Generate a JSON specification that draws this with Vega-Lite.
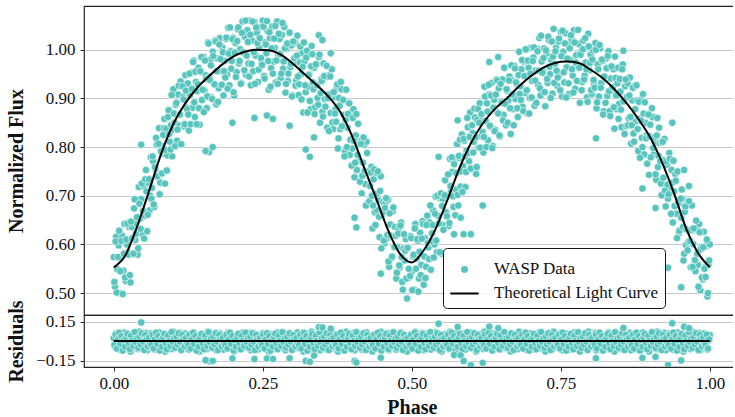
{
"$schema": "https://vega.github.io/schema/vega-lite/v6.json",
"padding": {"left": 6, "top": 5, "right": -8, "bottom": 0},
"spacing": 0,
"bounds": "flush",
"config": {
  "font": "Liberation Serif",
  "view": {"stroke": "#262626", "strokeWidth": 1.2},
  "axis": {"labelFont": "Liberation Serif", "labelFontSize": 17, "labelColor": "#111111", "titleFont": "Liberation Serif", "titleFontSize": 20, "titleFontWeight": "bold", "titleColor": "#111111", "grid": true, "gridColor": "#c8c8c8", "gridWidth": 1, "ticks": true, "tickSize": 4, "tickColor": "#262626", "domain": false, "labelPadding": 5}
},
"datasets": {
"model": [{"p":0,"f":0.553},{"p":0.02,"f":0.579},{"p":0.04,"f":0.640},{"p":0.06,"f":0.713},{"p":0.08,"f":0.788},{"p":0.10,"f":0.848},{"p":0.12,"f":0.890},{"p":0.14,"f":0.922},{"p":0.16,"f":0.946},{"p":0.18,"f":0.968},{"p":0.20,"f":0.986},{"p":0.22,"f":0.996},{"p":0.24,"f":1.000},{"p":0.26,"f":0.999},{"p":0.28,"f":0.990},{"p":0.30,"f":0.972},{"p":0.32,"f":0.950},{"p":0.34,"f":0.928},{"p":0.36,"f":0.904},{"p":0.38,"f":0.872},{"p":0.40,"f":0.822},{"p":0.42,"f":0.758},{"p":0.44,"f":0.695},{"p":0.46,"f":0.630},{"p":0.48,"f":0.581},{"p":0.50,"f":0.563},{"p":0.52,"f":0.588},{"p":0.54,"f":0.632},{"p":0.56,"f":0.692},{"p":0.58,"f":0.757},{"p":0.60,"f":0.810},{"p":0.62,"f":0.850},{"p":0.64,"f":0.879},{"p":0.66,"f":0.901},{"p":0.68,"f":0.925},{"p":0.70,"f":0.946},{"p":0.72,"f":0.963},{"p":0.74,"f":0.973},{"p":0.76,"f":0.976},{"p":0.78,"f":0.973},{"p":0.80,"f":0.959},{"p":0.82,"f":0.942},{"p":0.84,"f":0.919},{"p":0.86,"f":0.891},{"p":0.88,"f":0.858},{"p":0.90,"f":0.820},{"p":0.92,"f":0.768},{"p":0.94,"f":0.705},{"p":0.96,"f":0.634},{"p":0.98,"f":0.583},{"p":1.0,"f":0.553}],
"zero": [{"p":0,"r":0},{"p":1,"r":0}],
"pts": [
{"p":0.000,"f":0.574,"r":0.021},{"p":0.002,"f":0.513,"r":-0.043},{"p":0.004,"f":0.616,"r":0.058},{"p":0.006,"f":0.549,"r":-0.012},{"p":0.008,"f":0.598,"r":0.035},{"p":0.010,"f":0.500,"r":-0.066},{"p":0.012,"f":0.573,"r":0.004},{"p":0.014,"f":0.618,"r":0.047},{"p":0.016,"f":0.546,"r":-0.028},{"p":0.018,"f":0.642,"r":0.066},
{"p":0.020,"f":0.525,"r":-0.054},{"p":0.022,"f":0.600,"r":0.015},{"p":0.024,"f":0.584,"r":-0.007},{"p":0.026,"f":0.636,"r":0.039},{"p":0.028,"f":0.522,"r":-0.081},{"p":0.030,"f":0.636,"r":0.026},{"p":0.032,"f":0.581,"r":-0.035},{"p":0.034,"f":0.674,"r":0.052},{"p":0.036,"f":0.609,"r":-0.019},{"p":0.038,"f":0.643,"r":0.009},
{"p":0.040,"f":0.579,"r":-0.061},{"p":0.042,"f":0.718,"r":0.071},{"p":0.044,"f":0.653,"r":-0.002},{"p":0.046,"f":0.693,"r":0.031},{"p":0.048,"f":0.621,"r":-0.048},{"p":0.050,"f":0.720,"r":0.043},{"p":0.052,"f":0.659,"r":-0.025},{"p":0.054,"f":0.753,"r":0.062},{"p":0.056,"f":0.627,"r":-0.071},{"p":0.058,"f":0.727,"r":0.021},
{"p":0.060,"f":0.670,"r":-0.043},{"p":0.062,"f":0.779,"r":0.058},{"p":0.064,"f":0.716,"r":-0.012},{"p":0.066,"f":0.771,"r":0.035},{"p":0.068,"f":0.677,"r":-0.066},{"p":0.070,"f":0.755,"r":0.004},{"p":0.072,"f":0.805,"r":0.047},{"p":0.074,"f":0.738,"r":-0.028},{"p":0.076,"f":0.839,"r":0.066},{"p":0.078,"f":0.727,"r":-0.054},
{"p":0.080,"f":0.803,"r":0.015},{"p":0.082,"f":0.787,"r":-0.007},{"p":0.084,"f":0.839,"r":0.039},{"p":0.086,"f":0.725,"r":-0.081},{"p":0.088,"f":0.838,"r":0.026},{"p":0.090,"f":0.783,"r":-0.035},{"p":0.092,"f":0.876,"r":0.052},{"p":0.094,"f":0.811,"r":-0.019},{"p":0.096,"f":0.845,"r":0.009},{"p":0.098,"f":0.781,"r":-0.061},
{"p":0.100,"f":0.919,"r":0.071},{"p":0.102,"f":0.850,"r":-0.002},{"p":0.104,"f":0.887,"r":0.031},{"p":0.106,"f":0.813,"r":-0.048},{"p":0.108,"f":0.908,"r":0.043},{"p":0.110,"f":0.844,"r":-0.025},{"p":0.112,"f":0.935,"r":0.062},{"p":0.114,"f":0.806,"r":-0.071},{"p":0.116,"f":0.903,"r":0.021},{"p":0.118,"f":0.843,"r":-0.043},
{"p":0.120,"f":0.948,"r":0.058},{"p":0.122,"f":0.881,"r":-0.012},{"p":0.124,"f":0.931,"r":0.035},{"p":0.126,"f":0.834,"r":-0.066},{"p":0.128,"f":0.907,"r":0.004},{"p":0.130,"f":0.953,"r":0.047},{"p":0.132,"f":0.881,"r":-0.028},{"p":0.134,"f":0.978,"r":0.066},{"p":0.136,"f":0.862,"r":-0.054},{"p":0.138,"f":0.934,"r":0.015},
{"p":0.140,"f":0.915,"r":-0.007},{"p":0.142,"f":0.963,"r":0.039},{"p":0.144,"f":0.846,"r":-0.081},{"p":0.146,"f":0.955,"r":0.026},{"p":0.148,"f":0.897,"r":-0.035},{"p":0.150,"f":0.986,"r":0.052},{"p":0.152,"f":0.917,"r":-0.019},{"p":0.154,"f":0.948,"r":0.009},{"p":0.156,"f":0.880,"r":-0.061},{"p":0.158,"f":1.015,"r":0.071},
{"p":0.160,"f":0.944,"r":-0.002},{"p":0.162,"f":0.979,"r":0.031},{"p":0.164,"f":0.902,"r":-0.048},{"p":0.166,"f":0.996,"r":0.043},{"p":0.168,"f":0.930,"r":-0.025},{"p":0.170,"f":1.019,"r":0.062},{"p":0.172,"f":0.888,"r":-0.071},{"p":0.174,"f":0.982,"r":0.021},{"p":0.176,"f":0.921,"r":-0.043},{"p":0.178,"f":1.024,"r":0.058},
{"p":0.180,"f":0.956,"r":-0.012},{"p":0.182,"f":1.005,"r":0.035},{"p":0.184,"f":0.906,"r":-0.066},{"p":0.186,"f":0.977,"r":0.004},{"p":0.188,"f":1.022,"r":0.047},{"p":0.190,"f":0.949,"r":-0.028},{"p":0.192,"f":1.045,"r":0.066},{"p":0.194,"f":0.927,"r":-0.054},{"p":0.196,"f":0.997,"r":0.015},{"p":0.198,"f":0.977,"r":-0.007},
{"p":0.200,"f":1.025,"r":0.039},{"p":0.202,"f":0.906,"r":-0.081},{"p":0.204,"f":1.014,"r":0.026},{"p":0.206,"f":0.954,"r":-0.035},{"p":0.208,"f":1.042,"r":0.052},{"p":0.210,"f":0.972,"r":-0.019},{"p":0.212,"f":1.001,"r":0.009},{"p":0.214,"f":0.932,"r":-0.061},{"p":0.216,"f":1.058,"r":0.064},{"p":0.218,"f":0.993,"r":-0.002},
{"p":0.220,"f":1.027,"r":0.031},{"p":0.222,"f":0.948,"r":-0.048},{"p":0.224,"f":1.040,"r":0.043},{"p":0.226,"f":0.972,"r":-0.025},{"p":0.228,"f":1.060,"r":0.062},{"p":0.230,"f":0.927,"r":-0.071},{"p":0.232,"f":1.019,"r":0.021},{"p":0.234,"f":0.956,"r":-0.043},{"p":0.236,"f":1.057,"r":0.058},{"p":0.238,"f":0.988,"r":-0.012},
{"p":0.240,"f":1.035,"r":0.035},{"p":0.242,"f":0.934,"r":-0.066},{"p":0.244,"f":1.004,"r":0.004},{"p":0.246,"f":1.047,"r":0.047},{"p":0.248,"f":0.972,"r":-0.028},{"p":0.250,"f":1.060,"r":0.060},{"p":0.252,"f":0.946,"r":-0.054},{"p":0.254,"f":1.015,"r":0.015},{"p":0.256,"f":0.993,"r":-0.007},{"p":0.258,"f":1.038,"r":0.039},
{"p":0.260,"f":0.918,"r":-0.081},{"p":0.262,"f":1.024,"r":0.026},{"p":0.264,"f":0.962,"r":-0.035},{"p":0.266,"f":1.048,"r":0.052},{"p":0.268,"f":0.976,"r":-0.019},{"p":0.270,"f":1.004,"r":0.009},{"p":0.272,"f":0.933,"r":-0.061},{"p":0.274,"f":1.058,"r":0.065},{"p":0.276,"f":0.990,"r":-0.002},{"p":0.278,"f":1.022,"r":0.031},
{"p":0.280,"f":0.942,"r":-0.048},{"p":0.282,"f":1.031,"r":0.043},{"p":0.284,"f":0.961,"r":-0.025},{"p":0.286,"f":1.047,"r":0.062},{"p":0.288,"f":0.912,"r":-0.071},{"p":0.290,"f":1.002,"r":0.021},{"p":0.292,"f":0.936,"r":-0.043},{"p":0.294,"f":1.035,"r":0.058},{"p":0.296,"f":0.964,"r":-0.012},{"p":0.298,"f":1.009,"r":0.035},
{"p":0.300,"f":0.906,"r":-0.066},{"p":0.302,"f":0.974,"r":0.004},{"p":0.304,"f":1.015,"r":0.047},{"p":0.306,"f":0.937,"r":-0.028},{"p":0.308,"f":1.029,"r":0.066},{"p":0.310,"f":0.907,"r":-0.054},{"p":0.312,"f":0.974,"r":0.015},{"p":0.314,"f":0.950,"r":-0.007},{"p":0.316,"f":0.993,"r":0.039},{"p":0.318,"f":0.871,"r":-0.081},
{"p":0.320,"f":0.976,"r":0.026},{"p":0.322,"f":0.913,"r":-0.035},{"p":0.324,"f":0.998,"r":0.052},{"p":0.326,"f":0.924,"r":-0.019},{"p":0.328,"f":0.950,"r":0.009},{"p":0.330,"f":0.878,"r":-0.061},{"p":0.332,"f":1.008,"r":0.071},{"p":0.334,"f":0.933,"r":-0.002},{"p":0.336,"f":0.963,"r":0.031},{"p":0.338,"f":0.882,"r":-0.048},
{"p":0.340,"f":0.971,"r":0.043},{"p":0.342,"f":0.901,"r":-0.025},{"p":0.344,"f":0.985,"r":0.062},{"p":0.346,"f":0.850,"r":-0.071},{"p":0.348,"f":0.939,"r":0.021},{"p":0.350,"f":0.873,"r":-0.043},{"p":0.352,"f":0.972,"r":0.058},{"p":0.354,"f":0.899,"r":-0.012},{"p":0.356,"f":0.944,"r":0.035},{"p":0.358,"f":0.840,"r":-0.066},
{"p":0.360,"f":0.908,"r":0.004},{"p":0.362,"f":0.948,"r":0.047},{"p":0.364,"f":0.870,"r":-0.028},{"p":0.366,"f":0.960,"r":0.066},{"p":0.368,"f":0.837,"r":-0.054},{"p":0.370,"f":0.903,"r":0.015},{"p":0.372,"f":0.878,"r":-0.007},{"p":0.374,"f":0.921,"r":0.039},{"p":0.376,"f":0.797,"r":-0.081},{"p":0.378,"f":0.901,"r":0.026},
{"p":0.380,"f":0.837,"r":-0.035},{"p":0.382,"f":0.919,"r":0.052},{"p":0.384,"f":0.843,"r":-0.019},{"p":0.386,"f":0.866,"r":0.009},{"p":0.388,"f":0.791,"r":-0.061},{"p":0.390,"f":0.918,"r":0.071},{"p":0.392,"f":0.840,"r":-0.002},{"p":0.394,"f":0.868,"r":0.031},{"p":0.396,"f":0.784,"r":-0.048},{"p":0.398,"f":0.870,"r":0.043},
{"p":0.400,"f":0.797,"r":-0.025},{"p":0.402,"f":0.878,"r":0.062},{"p":0.404,"f":0.738,"r":-0.071},{"p":0.406,"f":0.824,"r":0.021},{"p":0.408,"f":0.753,"r":-0.043},{"p":0.410,"f":0.848,"r":0.058},{"p":0.412,"f":0.772,"r":-0.012},{"p":0.414,"f":0.812,"r":0.035},{"p":0.416,"f":0.705,"r":-0.066},{"p":0.418,"f":0.768,"r":0.004},
{"p":0.420,"f":0.805,"r":0.047},{"p":0.422,"f":0.724,"r":-0.028},{"p":0.424,"f":0.811,"r":0.066},{"p":0.426,"f":0.685,"r":-0.054},{"p":0.428,"f":0.748,"r":0.015},{"p":0.430,"f":0.720,"r":-0.007},{"p":0.432,"f":0.759,"r":0.039},{"p":0.434,"f":0.633,"r":-0.081},{"p":0.436,"f":0.734,"r":0.026},{"p":0.438,"f":0.666,"r":-0.035},
{"p":0.440,"f":0.747,"r":0.052},{"p":0.442,"f":0.670,"r":-0.019},{"p":0.444,"f":0.691,"r":0.009},{"p":0.446,"f":0.615,"r":-0.061},{"p":0.448,"f":0.740,"r":0.071},{"p":0.450,"f":0.661,"r":-0.002},{"p":0.452,"f":0.687,"r":0.031},{"p":0.454,"f":0.602,"r":-0.048},{"p":0.456,"f":0.686,"r":0.043},{"p":0.458,"f":0.612,"r":-0.025},
{"p":0.460,"f":0.692,"r":0.062},{"p":0.462,"f":0.554,"r":-0.071},{"p":0.464,"f":0.641,"r":0.021},{"p":0.466,"f":0.572,"r":-0.043},{"p":0.468,"f":0.668,"r":0.058},{"p":0.470,"f":0.594,"r":-0.012},{"p":0.472,"f":0.636,"r":0.035},{"p":0.474,"f":0.530,"r":-0.066},{"p":0.476,"f":0.595,"r":0.004},{"p":0.478,"f":0.633,"r":0.047},
{"p":0.480,"f":0.553,"r":-0.028},{"p":0.482,"f":0.645,"r":0.066},{"p":0.484,"f":0.523,"r":-0.054},{"p":0.486,"f":0.591,"r":0.015},{"p":0.488,"f":0.567,"r":-0.007},{"p":0.490,"f":0.611,"r":0.039},{"p":0.492,"f":0.489,"r":-0.081},{"p":0.494,"f":0.594,"r":0.026},{"p":0.496,"f":0.532,"r":-0.035},{"p":0.498,"f":0.617,"r":0.052},
{"p":0.500,"f":0.544,"r":-0.019},{"p":0.502,"f":0.575,"r":0.009},{"p":0.504,"f":0.507,"r":-0.061},{"p":0.506,"f":0.642,"r":0.071},{"p":0.508,"f":0.571,"r":-0.002},{"p":0.510,"f":0.607,"r":0.031},{"p":0.512,"f":0.530,"r":-0.048},{"p":0.514,"f":0.624,"r":0.043},{"p":0.516,"f":0.558,"r":-0.025},{"p":0.518,"f":0.648,"r":0.062},
{"p":0.520,"f":0.517,"r":-0.071},{"p":0.522,"f":0.613,"r":0.021},{"p":0.524,"f":0.554,"r":-0.043},{"p":0.526,"f":0.659,"r":0.058},{"p":0.528,"f":0.594,"r":-0.012},{"p":0.530,"f":0.645,"r":0.035},{"p":0.532,"f":0.548,"r":-0.066},{"p":0.534,"f":0.623,"r":0.004},{"p":0.536,"f":0.670,"r":0.047},{"p":0.538,"f":0.600,"r":-0.028},
{"p":0.540,"f":0.698,"r":0.066},{"p":0.542,"f":0.584,"r":-0.054},{"p":0.544,"f":0.659,"r":0.015},{"p":0.546,"f":0.643,"r":-0.007},{"p":0.548,"f":0.695,"r":0.039},{"p":0.550,"f":0.581,"r":-0.081},{"p":0.552,"f":0.694,"r":0.026},{"p":0.554,"f":0.639,"r":-0.035},{"p":0.556,"f":0.732,"r":0.052},{"p":0.558,"f":0.667,"r":-0.019},
{"p":0.560,"f":0.701,"r":0.009},{"p":0.562,"f":0.638,"r":-0.061},{"p":0.564,"f":0.776,"r":0.071},{"p":0.566,"f":0.710,"r":-0.002},{"p":0.568,"f":0.749,"r":0.031},{"p":0.570,"f":0.677,"r":-0.048},{"p":0.572,"f":0.774,"r":0.043},{"p":0.574,"f":0.713,"r":-0.025},{"p":0.576,"f":0.806,"r":0.062},{"p":0.578,"f":0.680,"r":-0.071},
{"p":0.580,"f":0.778,"r":0.021},{"p":0.582,"f":0.719,"r":-0.043},{"p":0.584,"f":0.826,"r":0.058},{"p":0.586,"f":0.761,"r":-0.012},{"p":0.588,"f":0.813,"r":0.035},{"p":0.590,"f":0.718,"r":-0.066},{"p":0.592,"f":0.793,"r":0.004},{"p":0.594,"f":0.841,"r":0.047},{"p":0.596,"f":0.771,"r":-0.028},{"p":0.598,"f":0.871,"r":0.066},
{"p":0.600,"f":0.756,"r":-0.054},{"p":0.602,"f":0.829,"r":0.015},{"p":0.604,"f":0.811,"r":-0.007},{"p":0.606,"f":0.861,"r":0.039},{"p":0.608,"f":0.745,"r":-0.081},{"p":0.610,"f":0.856,"r":0.026},{"p":0.612,"f":0.799,"r":-0.035},{"p":0.614,"f":0.890,"r":0.052},{"p":0.616,"f":0.823,"r":-0.019},{"p":0.618,"f":0.855,"r":0.009},
{"p":0.620,"f":0.789,"r":-0.061},{"p":0.622,"f":0.924,"r":0.071},{"p":0.624,"f":0.854,"r":-0.002},{"p":0.626,"f":0.890,"r":0.031},{"p":0.628,"f":0.814,"r":-0.048},{"p":0.630,"f":0.908,"r":0.043},{"p":0.632,"f":0.842,"r":-0.025},{"p":0.634,"f":0.932,"r":0.062},{"p":0.636,"f":0.802,"r":-0.071},{"p":0.638,"f":0.897,"r":0.021},
{"p":0.640,"f":0.836,"r":-0.043},{"p":0.642,"f":0.939,"r":0.058},{"p":0.644,"f":0.871,"r":-0.012},{"p":0.646,"f":0.921,"r":0.035},{"p":0.648,"f":0.822,"r":-0.066},{"p":0.650,"f":0.894,"r":0.004},{"p":0.652,"f":0.939,"r":0.047},{"p":0.654,"f":0.866,"r":-0.028},{"p":0.656,"f":0.963,"r":0.066},{"p":0.658,"f":0.845,"r":-0.054},
{"p":0.660,"f":0.916,"r":0.015},{"p":0.662,"f":0.896,"r":-0.007},{"p":0.664,"f":0.945,"r":0.039},{"p":0.666,"f":0.827,"r":-0.081},{"p":0.668,"f":0.937,"r":0.026},{"p":0.670,"f":0.878,"r":-0.035},{"p":0.672,"f":0.967,"r":0.052},{"p":0.674,"f":0.899,"r":-0.019},{"p":0.676,"f":0.929,"r":0.009},{"p":0.678,"f":0.862,"r":-0.061},
{"p":0.680,"f":0.996,"r":0.071},{"p":0.682,"f":0.925,"r":-0.002},{"p":0.684,"f":0.960,"r":0.031},{"p":0.686,"f":0.883,"r":-0.048},{"p":0.688,"f":0.976,"r":0.043},{"p":0.690,"f":0.911,"r":-0.025},{"p":0.692,"f":1.000,"r":0.062},{"p":0.694,"f":0.869,"r":-0.071},{"p":0.696,"f":0.963,"r":0.021},{"p":0.698,"f":0.901,"r":-0.043},
{"p":0.700,"f":1.004,"r":0.058},{"p":0.702,"f":0.936,"r":-0.012},{"p":0.704,"f":0.984,"r":0.035},{"p":0.706,"f":0.885,"r":-0.066},{"p":0.708,"f":0.957,"r":0.004},{"p":0.710,"f":1.002,"r":0.047},{"p":0.712,"f":0.928,"r":-0.028},{"p":0.714,"f":1.024,"r":0.066},{"p":0.716,"f":0.906,"r":-0.054},{"p":0.718,"f":0.976,"r":0.015},
{"p":0.720,"f":0.956,"r":-0.007},{"p":0.722,"f":1.003,"r":0.039},{"p":0.724,"f":0.884,"r":-0.081},{"p":0.726,"f":0.992,"r":0.026},{"p":0.728,"f":0.932,"r":-0.035},{"p":0.730,"f":1.020,"r":0.052},{"p":0.732,"f":0.950,"r":-0.019},{"p":0.734,"f":0.979,"r":0.009},{"p":0.736,"f":0.910,"r":-0.061},{"p":0.738,"f":1.043,"r":0.071},
{"p":0.740,"f":0.971,"r":-0.002},{"p":0.742,"f":1.004,"r":0.031},{"p":0.744,"f":0.926,"r":-0.048},{"p":0.746,"f":1.017,"r":0.043},{"p":0.748,"f":0.949,"r":-0.025},{"p":0.750,"f":1.037,"r":0.062},{"p":0.752,"f":0.904,"r":-0.071},{"p":0.754,"f":0.996,"r":0.021},{"p":0.756,"f":0.933,"r":-0.043},{"p":0.758,"f":1.034,"r":0.058},
{"p":0.760,"f":0.964,"r":-0.012},{"p":0.762,"f":1.011,"r":0.035},{"p":0.764,"f":0.909,"r":-0.066},{"p":0.766,"f":0.979,"r":0.004},{"p":0.768,"f":1.022,"r":0.047},{"p":0.770,"f":0.947,"r":-0.028},{"p":0.772,"f":1.040,"r":0.066},{"p":0.774,"f":0.920,"r":-0.054},{"p":0.776,"f":0.989,"r":0.015},{"p":0.778,"f":0.966,"r":-0.007},
{"p":0.780,"f":1.012,"r":0.039},{"p":0.782,"f":0.891,"r":-0.081},{"p":0.784,"f":0.996,"r":0.026},{"p":0.786,"f":0.934,"r":-0.035},{"p":0.788,"f":1.019,"r":0.052},{"p":0.790,"f":0.947,"r":-0.019},{"p":0.792,"f":0.974,"r":0.009},{"p":0.794,"f":0.902,"r":-0.061},{"p":0.796,"f":1.033,"r":0.071},{"p":0.798,"f":0.958,"r":-0.002},
{"p":0.800,"f":0.990,"r":0.031},{"p":0.802,"f":0.909,"r":-0.048},{"p":0.804,"f":0.999,"r":0.043},{"p":0.806,"f":0.929,"r":-0.025},{"p":0.808,"f":1.014,"r":0.062},{"p":0.810,"f":0.880,"r":-0.071},{"p":0.812,"f":0.970,"r":0.021},{"p":0.814,"f":0.904,"r":-0.043},{"p":0.816,"f":1.003,"r":0.058},{"p":0.818,"f":0.932,"r":-0.012},
{"p":0.820,"f":0.977,"r":0.035},{"p":0.822,"f":0.874,"r":-0.066},{"p":0.824,"f":0.941,"r":0.004},{"p":0.826,"f":0.982,"r":0.047},{"p":0.828,"f":0.905,"r":-0.028},{"p":0.830,"f":0.997,"r":0.066},{"p":0.832,"f":0.874,"r":-0.054},{"p":0.834,"f":0.941,"r":0.015},{"p":0.836,"f":0.917,"r":-0.007},{"p":0.838,"f":0.960,"r":0.039},
{"p":0.840,"f":0.838,"r":-0.081},{"p":0.842,"f":0.942,"r":0.026},{"p":0.844,"f":0.878,"r":-0.035},{"p":0.846,"f":0.963,"r":0.052},{"p":0.848,"f":0.889,"r":-0.019},{"p":0.850,"f":0.914,"r":0.009},{"p":0.852,"f":0.841,"r":-0.061},{"p":0.854,"f":0.970,"r":0.071},{"p":0.856,"f":0.895,"r":-0.002},{"p":0.858,"f":0.925,"r":0.031},
{"p":0.860,"f":0.843,"r":-0.048},{"p":0.862,"f":0.931,"r":0.043},{"p":0.864,"f":0.859,"r":-0.025},{"p":0.866,"f":0.943,"r":0.062},{"p":0.868,"f":0.807,"r":-0.071},{"p":0.870,"f":0.896,"r":0.021},{"p":0.872,"f":0.828,"r":-0.043},{"p":0.874,"f":0.926,"r":0.058},{"p":0.876,"f":0.853,"r":-0.012},{"p":0.878,"f":0.896,"r":0.035},
{"p":0.880,"f":0.792,"r":-0.066},{"p":0.882,"f":0.858,"r":0.004},{"p":0.884,"f":0.897,"r":0.047},{"p":0.886,"f":0.819,"r":-0.028},{"p":0.888,"f":0.909,"r":0.066},{"p":0.890,"f":0.785,"r":-0.054},{"p":0.892,"f":0.850,"r":0.015},{"p":0.894,"f":0.824,"r":-0.007},{"p":0.896,"f":0.867,"r":0.039},{"p":0.898,"f":0.743,"r":-0.081},
{"p":0.900,"f":0.846,"r":0.026},{"p":0.902,"f":0.780,"r":-0.035},{"p":0.904,"f":0.862,"r":0.052},{"p":0.906,"f":0.785,"r":-0.019},{"p":0.908,"f":0.808,"r":0.009},{"p":0.910,"f":0.733,"r":-0.061},{"p":0.912,"f":0.860,"r":0.071},{"p":0.914,"f":0.782,"r":-0.002},{"p":0.916,"f":0.809,"r":0.031},{"p":0.918,"f":0.725,"r":-0.048},
{"p":0.920,"f":0.811,"r":0.043},{"p":0.922,"f":0.737,"r":-0.025},{"p":0.924,"f":0.817,"r":0.062},{"p":0.926,"f":0.678,"r":-0.071},{"p":0.928,"f":0.764,"r":0.021},{"p":0.930,"f":0.694,"r":-0.043},{"p":0.932,"f":0.788,"r":0.058},{"p":0.934,"f":0.712,"r":-0.012},{"p":0.936,"f":0.753,"r":0.035},{"p":0.938,"f":0.645,"r":-0.066},
{"p":0.940,"f":0.709,"r":0.004},{"p":0.942,"f":0.745,"r":0.047},{"p":0.944,"f":0.663,"r":-0.028},{"p":0.946,"f":0.750,"r":0.066},{"p":0.948,"f":0.623,"r":-0.054},{"p":0.950,"f":0.685,"r":0.015},{"p":0.952,"f":0.655,"r":-0.007},{"p":0.954,"f":0.694,"r":0.039},{"p":0.956,"f":0.567,"r":-0.081},{"p":0.958,"f":0.667,"r":0.026},
{"p":0.960,"f":0.599,"r":-0.035},{"p":0.962,"f":0.681,"r":0.052},{"p":0.964,"f":0.605,"r":-0.019},{"p":0.966,"f":0.628,"r":0.009},{"p":0.968,"f":0.553,"r":-0.061},{"p":0.970,"f":0.680,"r":0.071},{"p":0.972,"f":0.601,"r":-0.002},{"p":0.974,"f":0.629,"r":0.031},{"p":0.976,"f":0.545,"r":-0.048},{"p":0.978,"f":0.631,"r":0.043},
{"p":0.980,"f":0.558,"r":-0.025},{"p":0.982,"f":0.642,"r":0.062},{"p":0.984,"f":0.506,"r":-0.071},{"p":0.986,"f":0.595,"r":0.021},{"p":0.988,"f":0.528,"r":-0.043},{"p":0.990,"f":0.626,"r":0.058},{"p":0.992,"f":0.553,"r":-0.012},{"p":0.994,"f":0.597,"r":0.035},{"p":0.996,"f":0.493,"r":-0.066},{"p":0.998,"f":0.560,"r":0.004},
{"p":1.000,"f":0.600,"r":0.047},
{"p":0.001,"f":0.523,"r":-0.031},{"p":0.003,"f":0.606,"r":0.049},{"p":0.005,"f":0.501,"r":-0.058},{"p":0.007,"f":0.574,"r":0.012},{"p":0.009,"f":0.628,"r":0.064},{"p":0.011,"f":0.545,"r":-0.022},{"p":0.013,"f":0.607,"r":0.037},{"p":0.015,"f":0.498,"r":-0.074},{"p":0.017,"f":0.581,"r":0.006},{"p":0.019,"f":0.532,"r":-0.045},
{"p":0.021,"f":0.610,"r":0.028},{"p":0.023,"f":0.643,"r":0.055},{"p":0.025,"f":0.579,"r":-0.015},{"p":0.027,"f":0.537,"r":-0.063},{"p":0.029,"f":0.647,"r":0.041},{"p":0.031,"f":0.613,"r":0.000},{"p":0.033,"f":0.581,"r":-0.038},{"p":0.035,"f":0.693,"r":0.068},{"p":0.037,"f":0.622,"r":-0.009},{"p":0.039,"f":0.656,"r":0.019},
{"p":0.041,"f":0.592,"r":-0.052},{"p":0.043,"f":0.684,"r":0.033},{"p":0.045,"f":0.632,"r":-0.027},{"p":0.047,"f":0.725,"r":0.059},{"p":0.049,"f":0.669,"r":-0.004},{"p":0.051,"f":0.612,"r":-0.069},{"p":0.053,"f":0.734,"r":0.046},{"p":0.055,"f":0.709,"r":0.014},{"p":0.057,"f":0.661,"r":-0.041},{"p":0.059,"f":0.734,"r":0.024},
{"p":0.061,"f":0.700,"r":-0.017},{"p":0.063,"f":0.694,"r":-0.031},{"p":0.065,"f":0.781,"r":0.049},{"p":0.067,"f":0.682,"r":-0.058},{"p":0.069,"f":0.759,"r":0.012},{"p":0.071,"f":0.819,"r":0.064},{"p":0.073,"f":0.740,"r":-0.022},{"p":0.075,"f":0.807,"r":0.037},{"p":0.077,"f":0.703,"r":-0.074},{"p":0.079,"f":0.791,"r":0.006},
{"p":0.081,"f":0.746,"r":-0.045},{"p":0.083,"f":0.825,"r":0.028},{"p":0.085,"f":0.858,"r":0.055},{"p":0.087,"f":0.794,"r":-0.015},{"p":0.089,"f":0.752,"r":-0.063},{"p":0.091,"f":0.862,"r":0.041},{"p":0.093,"f":0.827,"r":0.000},{"p":0.095,"f":0.795,"r":-0.038},{"p":0.097,"f":0.907,"r":0.068},{"p":0.099,"f":0.836,"r":-0.009},
{"p":0.101,"f":0.869,"r":0.019},{"p":0.103,"f":0.802,"r":-0.052},{"p":0.105,"f":0.891,"r":0.033},{"p":0.107,"f":0.836,"r":-0.027},{"p":0.109,"f":0.926,"r":0.059},{"p":0.111,"f":0.867,"r":-0.004},{"p":0.113,"f":0.806,"r":-0.069},{"p":0.115,"f":0.925,"r":0.046},{"p":0.117,"f":0.898,"r":0.014},{"p":0.119,"f":0.847,"r":-0.041},
{"p":0.121,"f":0.916,"r":0.024},{"p":0.123,"f":0.878,"r":-0.017},{"p":0.125,"f":0.867,"r":-0.031},{"p":0.127,"f":0.951,"r":0.049},{"p":0.129,"f":0.847,"r":-0.058},{"p":0.131,"f":0.920,"r":0.012},{"p":0.133,"f":0.975,"r":0.064},{"p":0.135,"f":0.892,"r":-0.022},{"p":0.137,"f":0.955,"r":0.037},{"p":0.139,"f":0.847,"r":-0.074},
{"p":0.141,"f":0.929,"r":0.006},{"p":0.143,"f":0.880,"r":-0.045},{"p":0.145,"f":0.956,"r":0.028},{"p":0.147,"f":0.985,"r":0.055},{"p":0.149,"f":0.918,"r":-0.015},{"p":0.151,"f":0.872,"r":-0.063},{"p":0.153,"f":0.978,"r":0.041},{"p":0.155,"f":0.940,"r":0.000},{"p":0.157,"f":0.904,"r":-0.038},{"p":0.159,"f":1.013,"r":0.068},
{"p":0.161,"f":0.938,"r":-0.009},{"p":0.163,"f":0.968,"r":0.019},{"p":0.165,"f":0.899,"r":-0.052},{"p":0.167,"f":0.987,"r":0.033},{"p":0.169,"f":0.929,"r":-0.027},{"p":0.171,"f":1.017,"r":0.059},{"p":0.173,"f":0.956,"r":-0.004},{"p":0.175,"f":0.893,"r":-0.069},{"p":0.177,"f":1.011,"r":0.046},{"p":0.179,"f":0.981,"r":0.014},
{"p":0.181,"f":0.928,"r":-0.041},{"p":0.183,"f":0.995,"r":0.024},{"p":0.185,"f":0.956,"r":-0.017},{"p":0.187,"f":0.943,"r":-0.031},{"p":0.189,"f":1.025,"r":0.049},{"p":0.191,"f":0.920,"r":-0.058},{"p":0.193,"f":0.992,"r":0.012},{"p":0.195,"f":1.046,"r":0.064},{"p":0.197,"f":0.961,"r":-0.022},{"p":0.199,"f":1.022,"r":0.037},
{"p":0.201,"f":0.913,"r":-0.074},{"p":0.203,"f":0.994,"r":0.006},{"p":0.205,"f":0.944,"r":-0.045},{"p":0.207,"f":1.018,"r":0.028},{"p":0.209,"f":1.046,"r":0.055},{"p":0.211,"f":0.977,"r":-0.015},{"p":0.213,"f":0.930,"r":-0.063},{"p":0.215,"f":1.035,"r":0.041},{"p":0.217,"f":0.995,"r":0.000},{"p":0.219,"f":0.958,"r":-0.038},
{"p":0.221,"f":1.060,"r":0.064},{"p":0.223,"f":0.988,"r":-0.009},{"p":0.225,"f":1.016,"r":0.019},{"p":0.227,"f":0.945,"r":-0.052},{"p":0.229,"f":1.031,"r":0.033},{"p":0.231,"f":0.971,"r":-0.027},{"p":0.233,"f":1.058,"r":0.059},{"p":0.235,"f":0.995,"r":-0.004},{"p":0.237,"f":0.930,"r":-0.069},{"p":0.239,"f":1.046,"r":0.046},
{"p":0.241,"f":1.014,"r":0.014},{"p":0.243,"f":0.959,"r":-0.041},{"p":0.245,"f":1.024,"r":0.024},{"p":0.247,"f":0.983,"r":-0.017},{"p":0.249,"f":0.969,"r":-0.031},{"p":0.251,"f":1.048,"r":0.049},{"p":0.253,"f":0.941,"r":-0.058},{"p":0.255,"f":1.011,"r":0.012},{"p":0.257,"f":1.059,"r":0.060},{"p":0.259,"f":0.977,"r":-0.022},
{"p":0.261,"f":1.036,"r":0.037},{"p":0.263,"f":0.924,"r":-0.074},{"p":0.265,"f":1.003,"r":0.006},{"p":0.267,"f":0.951,"r":-0.045},{"p":0.269,"f":1.023,"r":0.028},{"p":0.271,"f":1.049,"r":0.055},{"p":0.273,"f":0.978,"r":-0.015},{"p":0.275,"f":0.930,"r":-0.063},{"p":0.277,"f":1.033,"r":0.041},{"p":0.279,"f":0.991,"r":0.000},
{"p":0.281,"f":0.951,"r":-0.038},{"p":0.283,"f":1.055,"r":0.068},{"p":0.285,"f":0.976,"r":-0.009},{"p":0.287,"f":1.003,"r":0.019},{"p":0.289,"f":0.930,"r":-0.052},{"p":0.291,"f":1.013,"r":0.033},{"p":0.293,"f":0.951,"r":-0.027},{"p":0.295,"f":1.035,"r":0.059},{"p":0.297,"f":0.971,"r":-0.004},{"p":0.299,"f":0.904,"r":-0.069},
{"p":0.301,"f":1.017,"r":0.046},{"p":0.303,"f":0.983,"r":0.014},{"p":0.305,"f":0.926,"r":-0.041},{"p":0.307,"f":0.988,"r":0.024},{"p":0.309,"f":0.945,"r":-0.017},{"p":0.311,"f":0.929,"r":-0.031},{"p":0.313,"f":1.007,"r":0.049},{"p":0.315,"f":0.898,"r":-0.058},{"p":0.317,"f":0.965,"r":0.012},{"p":0.319,"f":1.015,"r":0.064},
{"p":0.321,"f":0.927,"r":-0.022},{"p":0.323,"f":0.984,"r":0.037},{"p":0.325,"f":0.871,"r":-0.074},{"p":0.327,"f":0.948,"r":0.006},{"p":0.329,"f":0.895,"r":-0.045},{"p":0.331,"f":0.966,"r":0.028},{"p":0.333,"f":0.991,"r":0.055},{"p":0.335,"f":0.919,"r":-0.015},{"p":0.337,"f":0.868,"r":-0.063},{"p":0.339,"f":0.970,"r":0.041},
{"p":0.341,"f":0.927,"r":0.000},{"p":0.343,"f":0.887,"r":-0.038},{"p":0.345,"f":0.990,"r":0.068},{"p":0.347,"f":0.911,"r":-0.009},{"p":0.349,"f":0.936,"r":0.019},{"p":0.351,"f":0.863,"r":-0.052},{"p":0.353,"f":0.946,"r":0.033},{"p":0.355,"f":0.883,"r":-0.027},{"p":0.357,"f":0.967,"r":0.059},{"p":0.359,"f":0.901,"r":-0.004},
{"p":0.361,"f":0.833,"r":-0.069},{"p":0.363,"f":0.945,"r":0.046},{"p":0.365,"f":0.910,"r":0.014},{"p":0.367,"f":0.851,"r":-0.041},{"p":0.369,"f":0.913,"r":0.024},{"p":0.371,"f":0.869,"r":-0.017},{"p":0.373,"f":0.852,"r":-0.031},{"p":0.375,"f":0.929,"r":0.049},{"p":0.377,"f":0.818,"r":-0.058},{"p":0.379,"f":0.885,"r":0.012},
{"p":0.381,"f":0.934,"r":0.064},{"p":0.383,"f":0.843,"r":-0.022},{"p":0.385,"f":0.897,"r":0.037},{"p":0.387,"f":0.781,"r":-0.074},{"p":0.389,"f":0.856,"r":0.006},{"p":0.391,"f":0.800,"r":-0.045},{"p":0.393,"f":0.868,"r":0.028},{"p":0.395,"f":0.890,"r":0.055},{"p":0.397,"f":0.815,"r":-0.015},{"p":0.399,"f":0.762,"r":-0.063},
{"p":0.401,"f":0.860,"r":0.041},{"p":0.403,"f":0.813,"r":0.000},{"p":0.405,"f":0.768,"r":-0.038},{"p":0.407,"f":0.868,"r":0.068},{"p":0.409,"f":0.784,"r":-0.009},{"p":0.411,"f":0.806,"r":0.019},{"p":0.413,"f":0.729,"r":-0.052},{"p":0.415,"f":0.807,"r":0.033},{"p":0.417,"f":0.741,"r":-0.027},{"p":0.419,"f":0.820,"r":0.059},
{"p":0.421,"f":0.751,"r":-0.004},{"p":0.423,"f":0.680,"r":-0.069},{"p":0.425,"f":0.788,"r":0.046},{"p":0.427,"f":0.750,"r":0.014},{"p":0.429,"f":0.689,"r":-0.041},{"p":0.431,"f":0.748,"r":0.024},{"p":0.433,"f":0.700,"r":-0.017},{"p":0.435,"f":0.680,"r":-0.031},{"p":0.437,"f":0.754,"r":0.049},{"p":0.439,"f":0.640,"r":-0.058},
{"p":0.441,"f":0.704,"r":0.012},{"p":0.443,"f":0.750,"r":0.064},{"p":0.445,"f":0.657,"r":-0.022},{"p":0.447,"f":0.710,"r":0.037},{"p":0.449,"f":0.592,"r":-0.074},{"p":0.451,"f":0.666,"r":0.006},{"p":0.453,"f":0.608,"r":-0.045},{"p":0.455,"f":0.675,"r":0.028},{"p":0.457,"f":0.695,"r":0.055},{"p":0.459,"f":0.619,"r":-0.015},
{"p":0.461,"f":0.565,"r":-0.063},{"p":0.463,"f":0.664,"r":0.041},{"p":0.465,"f":0.618,"r":0.000},{"p":0.467,"f":0.575,"r":-0.038},{"p":0.469,"f":0.676,"r":0.068},{"p":0.471,"f":0.595,"r":-0.009},{"p":0.473,"f":0.618,"r":0.019},{"p":0.475,"f":0.542,"r":-0.052},{"p":0.477,"f":0.622,"r":0.033},{"p":0.479,"f":0.557,"r":-0.027},
{"p":0.481,"f":0.639,"r":0.059},{"p":0.483,"f":0.574,"r":-0.004},{"p":0.485,"f":0.507,"r":-0.069},{"p":0.487,"f":0.621,"r":0.046},{"p":0.489,"f":0.587,"r":0.014},{"p":0.491,"f":0.530,"r":-0.041},{"p":0.493,"f":0.593,"r":0.024},{"p":0.495,"f":0.550,"r":-0.017},{"p":0.497,"f":0.535,"r":-0.031},{"p":0.499,"f":0.613,"r":0.049},
{"p":0.501,"f":0.506,"r":-0.058},{"p":0.503,"f":0.579,"r":0.012},{"p":0.505,"f":0.633,"r":0.064},{"p":0.507,"f":0.550,"r":-0.022},{"p":0.509,"f":0.611,"r":0.037},{"p":0.511,"f":0.503,"r":-0.074},{"p":0.513,"f":0.585,"r":0.006},{"p":0.515,"f":0.537,"r":-0.045},{"p":0.517,"f":0.612,"r":0.028},{"p":0.519,"f":0.642,"r":0.055},
{"p":0.521,"f":0.575,"r":-0.015},{"p":0.523,"f":0.531,"r":-0.063},{"p":0.525,"f":0.640,"r":0.041},{"p":0.527,"f":0.603,"r":0.000},{"p":0.529,"f":0.570,"r":-0.038},{"p":0.531,"f":0.680,"r":0.068},{"p":0.533,"f":0.607,"r":-0.009},{"p":0.535,"f":0.640,"r":0.019},{"p":0.537,"f":0.573,"r":-0.052},{"p":0.539,"f":0.663,"r":0.033},
{"p":0.541,"f":0.608,"r":-0.027},{"p":0.543,"f":0.700,"r":0.059},{"p":0.545,"f":0.643,"r":-0.004},{"p":0.547,"f":0.584,"r":-0.069},{"p":0.549,"f":0.705,"r":0.046},{"p":0.551,"f":0.679,"r":0.014},{"p":0.553,"f":0.630,"r":-0.041},{"p":0.555,"f":0.701,"r":0.024},{"p":0.557,"f":0.666,"r":-0.017},{"p":0.559,"f":0.658,"r":-0.031},
{"p":0.561,"f":0.744,"r":0.049},{"p":0.563,"f":0.644,"r":-0.058},{"p":0.565,"f":0.720,"r":0.012},{"p":0.567,"f":0.779,"r":0.064},{"p":0.569,"f":0.699,"r":-0.022},{"p":0.571,"f":0.765,"r":0.037},{"p":0.573,"f":0.660,"r":-0.074},{"p":0.575,"f":0.747,"r":0.006},{"p":0.577,"f":0.702,"r":-0.045},{"p":0.579,"f":0.782,"r":0.028},
{"p":0.581,"f":0.815,"r":0.055},{"p":0.583,"f":0.750,"r":-0.015},{"p":0.585,"f":0.708,"r":-0.063},{"p":0.587,"f":0.817,"r":0.041},{"p":0.589,"f":0.781,"r":0.000},{"p":0.591,"f":0.749,"r":-0.038},{"p":0.593,"f":0.860,"r":0.068},{"p":0.595,"f":0.788,"r":-0.009},{"p":0.597,"f":0.821,"r":0.019},{"p":0.599,"f":0.756,"r":-0.052},
{"p":0.601,"f":0.845,"r":0.033},{"p":0.603,"f":0.789,"r":-0.027},{"p":0.605,"f":0.879,"r":0.059},{"p":0.607,"f":0.820,"r":-0.004},{"p":0.609,"f":0.759,"r":-0.069},{"p":0.611,"f":0.878,"r":0.046},{"p":0.613,"f":0.850,"r":0.014},{"p":0.615,"f":0.799,"r":-0.041},{"p":0.617,"f":0.868,"r":0.024},{"p":0.619,"f":0.831,"r":-0.017},
{"p":0.621,"f":0.821,"r":-0.031},{"p":0.623,"f":0.904,"r":0.049},{"p":0.625,"f":0.800,"r":-0.058},{"p":0.627,"f":0.873,"r":0.012},{"p":0.629,"f":0.928,"r":0.064},{"p":0.631,"f":0.844,"r":-0.022},{"p":0.633,"f":0.906,"r":0.037},{"p":0.635,"f":0.798,"r":-0.074},{"p":0.637,"f":0.881,"r":0.006},{"p":0.639,"f":0.833,"r":-0.045},
{"p":0.641,"f":0.908,"r":0.028},{"p":0.643,"f":0.937,"r":0.055},{"p":0.645,"f":0.869,"r":-0.015},{"p":0.647,"f":0.824,"r":-0.063},{"p":0.649,"f":0.930,"r":0.041},{"p":0.651,"f":0.891,"r":0.000},{"p":0.653,"f":0.855,"r":-0.038},{"p":0.655,"f":0.963,"r":0.068},{"p":0.657,"f":0.889,"r":-0.009},{"p":0.659,"f":0.919,"r":0.019},
{"p":0.661,"f":0.850,"r":-0.052},{"p":0.663,"f":0.937,"r":0.033},{"p":0.665,"f":0.880,"r":-0.027},{"p":0.667,"f":0.968,"r":0.059},{"p":0.669,"f":0.908,"r":-0.004},{"p":0.671,"f":0.845,"r":-0.069},{"p":0.673,"f":0.962,"r":0.046},{"p":0.675,"f":0.933,"r":0.014},{"p":0.677,"f":0.880,"r":-0.041},{"p":0.679,"f":0.948,"r":0.024},
{"p":0.681,"f":0.909,"r":-0.017},{"p":0.683,"f":0.897,"r":-0.031},{"p":0.685,"f":0.979,"r":0.049},{"p":0.687,"f":0.874,"r":-0.058},{"p":0.689,"f":0.946,"r":0.012},{"p":0.691,"f":1.001,"r":0.064},{"p":0.693,"f":0.917,"r":-0.022},{"p":0.695,"f":0.978,"r":0.037},{"p":0.697,"f":0.869,"r":-0.074},{"p":0.699,"f":0.951,"r":0.006},
{"p":0.701,"f":0.902,"r":-0.045},{"p":0.703,"f":0.977,"r":0.028},{"p":0.705,"f":1.005,"r":0.055},{"p":0.707,"f":0.937,"r":-0.015},{"p":0.709,"f":0.891,"r":-0.063},{"p":0.711,"f":0.997,"r":0.041},{"p":0.713,"f":0.957,"r":0.000},{"p":0.715,"f":0.921,"r":-0.038},{"p":0.717,"f":1.029,"r":0.068},{"p":0.719,"f":0.953,"r":-0.009},
{"p":0.721,"f":0.983,"r":0.019},{"p":0.723,"f":0.913,"r":-0.052},{"p":0.725,"f":0.999,"r":0.033},{"p":0.727,"f":0.940,"r":-0.027},{"p":0.729,"f":1.027,"r":0.059},{"p":0.731,"f":0.965,"r":-0.004},{"p":0.733,"f":0.901,"r":-0.069},{"p":0.735,"f":1.017,"r":0.046},{"p":0.737,"f":0.986,"r":0.014},{"p":0.739,"f":0.932,"r":-0.041},
{"p":0.741,"f":0.997,"r":0.024},{"p":0.743,"f":0.957,"r":-0.017},{"p":0.745,"f":0.943,"r":-0.031},{"p":0.747,"f":1.023,"r":0.049},{"p":0.749,"f":0.917,"r":-0.058},{"p":0.751,"f":0.987,"r":0.012},{"p":0.753,"f":1.039,"r":0.064},{"p":0.755,"f":0.954,"r":-0.022},{"p":0.757,"f":1.013,"r":0.037},{"p":0.759,"f":0.902,"r":-0.074},
{"p":0.761,"f":0.982,"r":0.006},{"p":0.763,"f":0.931,"r":-0.045},{"p":0.765,"f":1.003,"r":0.028},{"p":0.767,"f":1.030,"r":0.055},{"p":0.769,"f":0.960,"r":-0.015},{"p":0.771,"f":0.912,"r":-0.063},{"p":0.773,"f":1.015,"r":0.041},{"p":0.775,"f":0.974,"r":0.000},{"p":0.777,"f":0.936,"r":-0.038},{"p":0.779,"f":1.041,"r":0.068},
{"p":0.781,"f":0.963,"r":-0.009},{"p":0.783,"f":0.990,"r":0.019},{"p":0.785,"f":0.917,"r":-0.052},{"p":0.787,"f":1.001,"r":0.033},{"p":0.789,"f":0.939,"r":-0.027},{"p":0.791,"f":1.024,"r":0.059},{"p":0.793,"f":0.960,"r":-0.004},{"p":0.795,"f":0.893,"r":-0.069},{"p":0.797,"f":1.007,"r":0.046},{"p":0.799,"f":0.973,"r":0.014},
{"p":0.801,"f":0.917,"r":-0.041},{"p":0.803,"f":0.980,"r":0.024},{"p":0.805,"f":0.938,"r":-0.017},{"p":0.807,"f":0.922,"r":-0.031},{"p":0.809,"f":1.000,"r":0.049},{"p":0.811,"f":0.892,"r":-0.058},{"p":0.813,"f":0.960,"r":0.012},{"p":0.815,"f":1.010,"r":0.064},{"p":0.817,"f":0.922,"r":-0.022},{"p":0.819,"f":0.980,"r":0.037},
{"p":0.821,"f":0.867,"r":-0.074},{"p":0.823,"f":0.945,"r":0.006},{"p":0.825,"f":0.891,"r":-0.045},{"p":0.827,"f":0.962,"r":0.028},{"p":0.829,"f":0.987,"r":0.055},{"p":0.831,"f":0.915,"r":-0.015},{"p":0.833,"f":0.864,"r":-0.063},{"p":0.835,"f":0.966,"r":0.041},{"p":0.837,"f":0.923,"r":0.000},{"p":0.839,"f":0.882,"r":-0.038},
{"p":0.841,"f":0.986,"r":0.068},{"p":0.843,"f":0.906,"r":-0.009},{"p":0.845,"f":0.931,"r":0.019},{"p":0.847,"f":0.858,"r":-0.052},{"p":0.849,"f":0.940,"r":0.033},{"p":0.851,"f":0.877,"r":-0.027},{"p":0.853,"f":0.960,"r":0.059},{"p":0.855,"f":0.894,"r":-0.004},{"p":0.857,"f":0.827,"r":-0.069},{"p":0.859,"f":0.939,"r":0.046},
{"p":0.861,"f":0.903,"r":0.014},{"p":0.863,"f":0.845,"r":-0.041},{"p":0.865,"f":0.906,"r":0.024},{"p":0.867,"f":0.862,"r":-0.017},{"p":0.869,"f":0.845,"r":-0.031},{"p":0.871,"f":0.922,"r":0.049},{"p":0.873,"f":0.811,"r":-0.058},{"p":0.875,"f":0.878,"r":0.012},{"p":0.877,"f":0.927,"r":0.064},{"p":0.879,"f":0.837,"r":-0.022},
{"p":0.881,"f":0.893,"r":0.037},{"p":0.883,"f":0.778,"r":-0.074},{"p":0.885,"f":0.854,"r":0.006},{"p":0.887,"f":0.800,"r":-0.045},{"p":0.889,"f":0.869,"r":0.028},{"p":0.891,"f":0.892,"r":0.055},{"p":0.893,"f":0.818,"r":-0.015},{"p":0.895,"f":0.766,"r":-0.063},{"p":0.897,"f":0.867,"r":0.041},{"p":0.899,"f":0.822,"r":0.000},
{"p":0.901,"f":0.779,"r":-0.038},{"p":0.903,"f":0.880,"r":0.068},{"p":0.905,"f":0.798,"r":-0.009},{"p":0.907,"f":0.820,"r":0.019},{"p":0.909,"f":0.744,"r":-0.052},{"p":0.911,"f":0.824,"r":0.033},{"p":0.913,"f":0.759,"r":-0.027},{"p":0.915,"f":0.840,"r":0.059},{"p":0.917,"f":0.771,"r":-0.004},{"p":0.919,"f":0.701,"r":-0.069},
{"p":0.921,"f":0.811,"r":0.046},{"p":0.923,"f":0.773,"r":0.014},{"p":0.925,"f":0.711,"r":-0.041},{"p":0.927,"f":0.770,"r":0.024},{"p":0.929,"f":0.723,"r":-0.017},{"p":0.931,"f":0.703,"r":-0.031},{"p":0.933,"f":0.776,"r":0.049},{"p":0.935,"f":0.663,"r":-0.058},{"p":0.937,"f":0.727,"r":0.012},{"p":0.939,"f":0.772,"r":0.064},
{"p":0.941,"f":0.679,"r":-0.022},{"p":0.943,"f":0.731,"r":0.037},{"p":0.945,"f":0.613,"r":-0.074},{"p":0.947,"f":0.686,"r":0.006},{"p":0.949,"f":0.628,"r":-0.045},{"p":0.951,"f":0.694,"r":0.028},{"p":0.953,"f":0.713,"r":0.055},{"p":0.955,"f":0.636,"r":-0.015},{"p":0.957,"f":0.581,"r":-0.063},{"p":0.959,"f":0.678,"r":0.041},
{"p":0.961,"f":0.631,"r":0.000},{"p":0.963,"f":0.588,"r":-0.038},{"p":0.965,"f":0.689,"r":0.068},{"p":0.967,"f":0.607,"r":-0.009},{"p":0.969,"f":0.630,"r":0.019},{"p":0.971,"f":0.554,"r":-0.052},{"p":0.973,"f":0.633,"r":0.033},{"p":0.975,"f":0.568,"r":-0.027},{"p":0.977,"f":0.649,"r":0.059},{"p":0.979,"f":0.581,"r":-0.004},
{"p":0.981,"f":0.513,"r":-0.069},{"p":0.983,"f":0.625,"r":0.046},{"p":0.985,"f":0.590,"r":0.014},{"p":0.987,"f":0.532,"r":-0.041},{"p":0.989,"f":0.594,"r":0.024},{"p":0.991,"f":0.550,"r":-0.017},{"p":0.993,"f":0.533,"r":-0.031},{"p":0.995,"f":0.610,"r":0.049},{"p":0.997,"f":0.500,"r":-0.058},{"p":0.999,"f":0.567,"r":0.012},
{"p":0.046,"f":0.805,"r":0.143},{"p":0.160,"f":0.790,"r":-0.156},{"p":0.166,"f":0.800,"r":-0.153},{"p":0.154,"f":0.792,"r":-0.148},{"p":0.199,"f":0.850,"r":-0.135},{"p":0.236,"f":0.860,"r":-0.139},{"p":0.257,"f":0.865,"r":-0.135},{"p":0.267,"f":0.858,"r":-0.138},{"p":0.295,"f":0.844,"r":-0.133},{"p":0.322,"f":0.795,"r":-0.153},{"p":0.329,"f":0.780,"r":-0.160},{"p":0.336,"f":0.820,"r":-0.112},{"p":0.344,"f":1.030,"r":0.107},{"p":0.350,"f":1.020,"r":0.104},{"p":0.364,"f":0.993,"r":0.095},{"p":0.404,"f":0.655,"r":-0.154},{"p":0.407,"f":0.635,"r":-0.165},{"p":0.448,"f":0.540,"r":-0.129},{"p":0.545,"f":0.780,"r":0.133},{"p":0.571,"f":0.621,"r":-0.107},{"p":0.577,"f":0.855,"r":0.108},{"p":0.582,"f":0.655,"r":-0.110},{"p":0.587,"f":0.621,"r":-0.154},{"p":0.599,"f":0.621,"r":-0.186},{"p":0.619,"f":0.680,"r":-0.168},{"p":0.630,"f":0.975,"r":0.110},{"p":0.645,"f":0.985,"r":0.099},{"p":0.809,"f":0.818,"r":-0.133},{"p":0.855,"f":0.998,"r":0.100},{"p":0.887,"f":0.715,"r":-0.130},{"p":0.909,"f":0.675,"r":-0.122},{"p":0.930,"f":0.552,"r":-0.185},{"p":0.937,"f":0.850,"r":0.136},{"p":0.952,"f":0.512,"r":-0.150},{"p":0.957,"f":0.753,"r":0.109},{"p":0.965,"f":0.720,"r":0.099}
]
},
"vconcat": [
  {
    "width": 655.6,
    "height": 309,
    "layer": [
      {
        "data": {"name": "pts"},
        "mark": {"type": "point", "filled": true, "size": 55, "stroke": "white", "strokeWidth": 0.6, "opacity": 1},
        "encoding": {
          "x": {"field": "p", "type": "quantitative", "scale": {"domain": [-0.05, 1.05], "nice": false, "zero": false}, "axis": null},
          "y": {"field": "f", "type": "quantitative", "scale": {"domain": [0.455, 1.09], "nice": false, "zero": false}, "axis": {"title": "Normalized Flux", "values": [0.5, 0.6, 0.7, 0.8, 0.9, 1.0], "format": ".2f", "titleX": -57, "titleY": 154.5}},
          "color": {"datum": "WASP Data", "type": "nominal", "scale": {"domain": ["WASP Data", "Theoretical Light Curve"], "range": ["#57c4bd", "#000000"]},
            "legend": {"title": null, "orient": "none", "legendX": 359, "legendY": 242, "direction": "vertical", "labelFont": "Liberation Serif", "labelFontSize": 17, "labelColor": "#111111", "labelLimit": 400, "labelOffset": 14, "padding": 6, "rowPadding": 0, "strokeColor": "#111111", "fillColor": "rgba(255,255,255,0.85)", "cornerRadius": 4,
              "symbolType": {"expr": "datum.value === 'WASP Data' ? 'circle' : 'stroke'"},
              "symbolSize": {"expr": "datum.value === 'WASP Data' ? 80 : 800"},
              "symbolStrokeColor": {"expr": "datum.value === 'WASP Data' ? 'white' : 'black'"},
              "symbolStrokeWidth": 2,
              "symbolOpacity": 1
            }
          }
        }
      },
      {
        "data": {"name": "model"},
        "mark": {"type": "line", "strokeWidth": 2, "interpolate": "monotone", "color": "black"},
        "encoding": {
          "x": {"field": "p", "type": "quantitative", "axis": null},
          "y": {"field": "f", "type": "quantitative"}
        }
      }
    ]
  },
  {
    "width": 655.6,
    "height": 52,
    "layer": [
      {
        "data": {"name": "pts"},
        "mark": {"type": "point", "filled": true, "size": 55, "stroke": "white", "strokeWidth": 0.6, "opacity": 1, "color": "#57c4bd", "clip": true},
        "encoding": {
          "x": {"field": "p", "type": "quantitative", "scale": {"domain": [-0.05, 1.05], "nice": false, "zero": false}, "axis": {"title": "Phase", "values": [0, 0.25, 0.5, 0.75, 1], "format": ".2f", "grid": false, "labelPadding": 5, "titlePadding": 6}},
          "y": {"field": "r", "type": "quantitative", "scale": {"domain": [-0.2, 0.2], "nice": false, "zero": false}, "axis": {"title": "Residuals", "values": [-0.15, 0, 0.15], "format": ".2f", "titleX": -57, "titleY": 26}}
        }
      },
      {
        "data": {"name": "zero"},
        "mark": {"type": "line", "strokeWidth": 2, "color": "black"},
        "encoding": {
          "x": {"field": "p", "type": "quantitative"},
          "y": {"field": "r", "type": "quantitative"}
        }
      }
    ]
  }
]
}
